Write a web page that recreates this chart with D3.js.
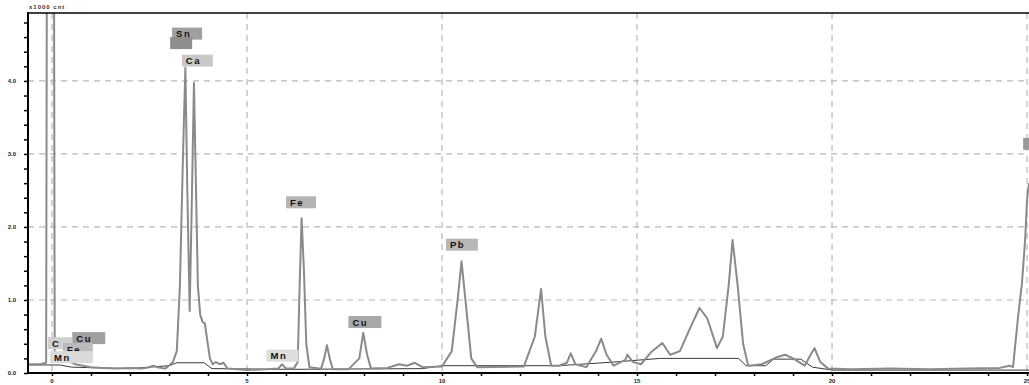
<!DOCTYPE html>
<html>
<head>
<meta charset="utf-8">
<script src="https://cdn.jsdelivr.net/npm/d3@7"></script>
<style>
body { margin: 0; background: #fff; }
svg { display: block; font-family: "Liberation Sans", Arial, sans-serif; }
</style>
</head>
<body>
<div id="chart"></div>
<script>
// spectrum, energy in keV and counts (x1000)
var energy = [-0.6,-0.3,-0.15,-0.13,0.05,0.07,0.2,0.3,0.45,0.6,0.8,1.0,1.3,1.6,2.0,2.3,2.5,2.6,2.7,2.9,3.0,3.1,3.2,3.28,3.36,3.42,3.47,3.53,3.58,3.64,3.69,3.74,3.8,3.86,3.92,3.98,4.05,4.12,4.2,4.3,4.4,4.5,5.0,5.5,5.8,5.9,6.0,6.2,6.3,6.35,6.4,6.46,6.52,6.6,6.9,6.98,7.05,7.12,7.2,7.6,7.88,7.98,8.08,8.18,8.6,8.9,9.1,9.3,9.5,10.0,10.25,10.4,10.5,10.62,10.75,10.9,12.1,12.38,12.54,12.65,12.8,13.0,13.2,13.3,13.42,13.7,13.95,14.08,14.22,14.4,14.7,14.75,14.9,15.1,15.35,15.65,15.85,16.1,16.35,16.6,16.8,17.05,17.2,17.35,17.45,17.58,17.72,17.85,18.2,18.6,18.8,19.0,19.3,19.45,19.55,19.7,19.9,20.5,21.5,22.5,23.5,24.3,24.55,24.64,24.77,24.87,24.95,25.0,25.05];
var counts = [0.12,0.12,0.14,6,6,0.2,0.18,0.2,0.16,0.12,0.1,0.08,0.07,0.06,0.07,0.06,0.08,0.1,0.08,0.06,0.1,0.15,0.3,1.2,3.0,4.18,2.5,0.85,2.2,3.97,2.6,1.2,0.8,0.7,0.68,0.45,0.2,0.12,0.15,0.12,0.14,0.06,0.04,0.05,0.06,0.12,0.06,0.06,0.15,1.2,2.12,1.4,0.4,0.08,0.06,0.2,0.38,0.2,0.05,0.05,0.2,0.55,0.25,0.06,0.07,0.12,0.1,0.14,0.08,0.09,0.3,1.0,1.53,0.9,0.2,0.08,0.09,0.5,1.15,0.5,0.1,0.1,0.14,0.27,0.12,0.08,0.3,0.47,0.25,0.1,0.18,0.25,0.15,0.12,0.28,0.41,0.25,0.3,0.6,0.89,0.75,0.34,0.5,1.2,1.82,1.2,0.4,0.1,0.12,0.22,0.25,0.2,0.1,0.25,0.34,0.15,0.06,0.05,0.06,0.05,0.06,0.07,0.1,0.08,0.77,1.23,1.82,2.37,2.6];

// fitted background
var bgEnergy = [-0.6,0.2,0.5,2.0,3.0,3.2,3.9,4.1,6.0,9.5,10.0,13.0,14.4,15.6,16.3,17.6,17.8,18.3,18.5,19.2,19.5,20.0,25.1];
var bgCounts = [0.11,0.11,0.08,0.06,0.1,0.14,0.14,0.06,0.05,0.06,0.1,0.1,0.15,0.2,0.2,0.2,0.1,0.1,0.19,0.19,0.08,0.04,0.04];

// peak markers
var peakNames = ["Sn","","Ca","Fe","Mn","Cu","Pb","Cu","C","Fe","Mn",""];
var peakE     = [3.08,3.03,3.33,6.0,5.5,7.6,10.1,0.52,-0.1,0.28,-0.05,24.9];
var peakY     = [4.73,4.6,4.36,2.42,0.32,0.78,1.84,0.56,0.49,0.41,0.3,3.22];
var peakW     = [30,22,31,30,32,33,32,33,24,30,43,12];
var peakFill  = ["#a0a0a0","#8e8e8e","#c8c8c8","#b4b4b4","#dedede","#a8a8a8","#b8b8b8","#a0a0a0","#cfcfcf","#bcbcbc","#dadada","#9a9a9a"];

var yMajor = [0,1,2,3,4];
var yLabels = ["0.0","1.0","2.0","3.0","4.0"];
var xMajor = [0,5,10,15,20,25];

var W = 1029, H = 385;
var svg = d3.select('#chart').append('svg').attr('width', W).attr('height', H);

var x = d3.scaleLinear().domain([-0.615, 25.05]).range([28, 1029]);
var y = d3.scaleLinear().domain([0, 4.93]).range([373, 13]);

svg.append('clipPath').attr('id', 'clip').append('rect')
	.attr('x', 28).attr('y', 13).attr('width', W - 28).attr('height', 360);

// grid
var grid = svg.append('g').attr('stroke', '#b8b8b8').attr('stroke-width', 1.2).attr('stroke-dasharray', '6,5');
grid.selectAll('.hg').data(yMajor.slice(1)).enter().append('line')
	.attr('x1', 28).attr('x2', W).attr('y1', function(d) { return y(d); }).attr('y2', function(d) { return y(d); });
grid.selectAll('.vg').data(xMajor).enter().append('line')
	.attr('y1', 13).attr('y2', 373).attr('x1', function(d) { return x(d); }).attr('x2', function(d) { return x(d); });

var plot = svg.append('g').attr('clip-path', 'url(#clip)');

var line = d3.line().x(function(d) { return x(d[0]); }).y(function(d) { return y(d[1]); });

plot.append('path').datum(d3.zip(bgEnergy, bgCounts))
	.attr('d', line).attr('fill', 'none').attr('stroke', '#3a3a3a').attr('stroke-width', 1);

plot.append('path').datum(d3.zip(energy, counts))
	.attr('d', line).attr('fill', 'none').attr('stroke', '#8a8a8a').attr('stroke-width', 2).attr('stroke-linejoin', 'round');

// labels
var lab = plot.selectAll('.lab').data(d3.range(peakNames.length)).enter().append('g')
	.attr('transform', function(i) { return 'translate(' + x(peakE[i]) + ',' + y(peakY[i]) + ')'; });
lab.append('rect').attr('width', function(i) { return peakW[i]; }).attr('height', 12)
	.attr('fill', function(i) { return peakFill[i]; });
lab.append('text').attr('x', 4).attr('y', 9.5)
	.attr('font-size', 9.5).attr('font-weight', 'bold').attr('letter-spacing', 1.5).attr('fill', '#111')
	.text(function(i) { return peakNames[i]; });

// axes
var yAxis = d3.axisLeft(y).tickValues(d3.range(0, 4.9, 0.2)).tickSize(4).tickFormat('');
svg.append('g').attr('transform', 'translate(28,0)').call(yAxis)
	.call(function(g) { g.select('.domain').remove(); })
	.selectAll('line').attr('stroke', '#000').attr('stroke-width', 1.5);
svg.selectAll('.ylab').data(yMajor).enter().append('text')
	.attr('x', 16).attr('y', function(d) { return y(d) + 2; })
	.attr('text-anchor', 'end').attr('font-size', 6).attr('font-weight', 'bold').attr('fill', '#222')
	.text(function(d, i) { return yLabels[i]; });

var xAxis = d3.axisBottom(x).tickValues(d3.range(0, 26, 1)).tickSize(3).tickFormat('');
svg.append('g').attr('transform', 'translate(0,373)').call(xAxis)
	.call(function(g) { g.select('.domain').remove(); })
	.selectAll('line').attr('stroke', '#000').attr('stroke-width', 1.5);
svg.selectAll('.xlab').data(xMajor).enter().append('text')
	.attr('x', function(d) { return x(d); }).attr('y', 383)
	.attr('text-anchor', 'middle').attr('font-size', 6).attr('font-weight', 'bold').attr('fill', '#222')
	.text(function(d) { return d; });

svg.append('line').attr('x1', 28).attr('x2', 28).attr('y1', 12).attr('y2', 374).attr('stroke', '#000').attr('stroke-width', 2);
svg.append('line').attr('x1', 27).attr('x2', W).attr('y1', 373).attr('y2', 373).attr('stroke', '#000').attr('stroke-width', 2);
svg.append('line').attr('x1', 27).attr('x2', W).attr('y1', 13).attr('y2', 13).attr('stroke', '#000').attr('stroke-width', 1.5);

svg.append('text').attr('x', 29).attr('y', 9).attr('font-size', 6).attr('font-weight', 'bold')
	.attr('letter-spacing', 1).attr('fill', '#333').text('x1000 cnt');
</script>
</body>
</html>
